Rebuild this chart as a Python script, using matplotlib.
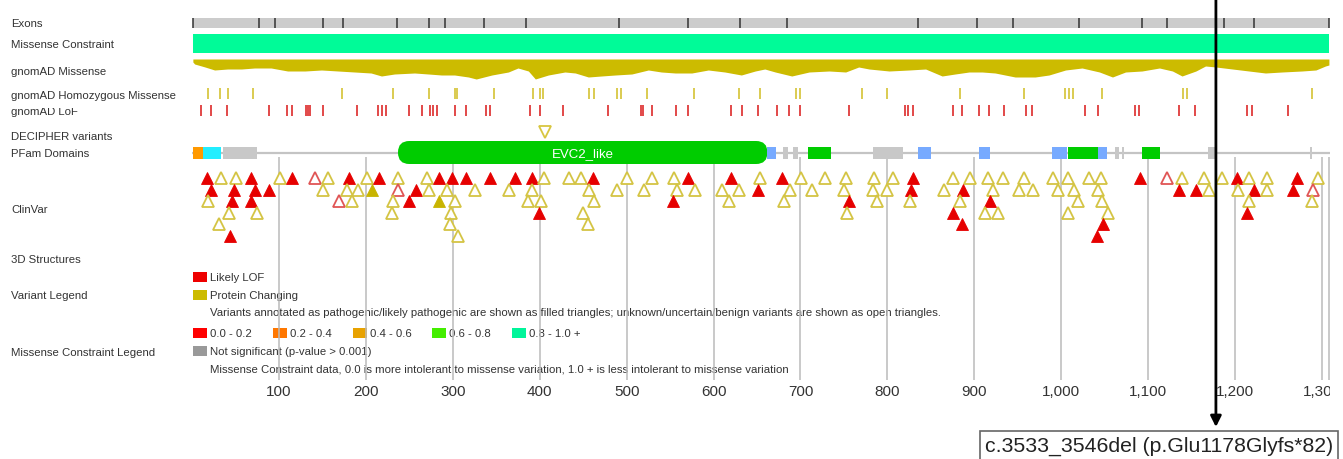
import matplotlib.pyplot as plt
from matplotlib.patches import Rectangle, FancyBboxPatch

plt.rcParams['font.family'] = ['Liberation Sans', 'DejaVu Sans']

PROTEIN_LEN = 1308

# exon boundaries (residues)
exon_bounds = [1, 77, 95, 151, 174, 236, 273, 291, 336, 384, 491, 571, 630, 685,
               835, 903, 945, 1020, 1093, 1122, 1187, 1222, PROTEIN_LEN]

# gnomAD missense depth profile (residue, depth)
missense_pos = [1, 3, 15, 26, 41, 57, 72, 91, 110, 130, 149, 168, 187, 206, 218, 233,
                256, 272, 287, 302, 318, 327, 345, 364, 375, 387, 395, 410, 429, 441,
                456, 471, 487, 506, 525, 540, 556, 575, 594, 613, 632, 648, 659, 671,
                690, 710, 733, 752, 767, 779, 802, 825, 844, 863, 878, 894, 909, 924,
                947, 970, 986, 1005, 1024, 1044, 1059, 1074, 1093, 1113, 1128, 1139,
                1155, 1166, 1178, 1197, 1216, 1235, 1254, 1277, 1293, 1304, 1308]
missense_depth = [3, 5, 8, 11, 10, 10, 9, 9, 12, 12, 11, 12, 13, 14, 17, 15,
                  14, 15, 16, 16, 18, 20, 16, 13, 9, 12, 20, 16, 13, 14,
                  18, 17, 16, 15, 11, 13, 14, 14, 11, 13, 16, 12, 10, 13,
                  17, 13, 12, 13, 8, 10, 12, 11, 10, 17, 15, 13, 13, 14,
                  18, 18, 16, 11, 9, 13, 18, 13, 12, 9, 12, 17,
                  12, 7, 8, 10, 12, 14, 13, 12, 11, 7, 6]

homozygous_missense = [18, 32, 41, 70, 173, 231, 273, 303, 305, 347, 392, 400, 404,
                       457, 462, 489, 494, 523, 578, 629, 653, 695, 700, 771, 800,
                       884, 957, 1004, 1009, 1014, 1047, 1140, 1145, 1289]

gnomad_lof = [10, 22, 40, 89, 109, 115, 131, 133, 136, 151, 190, 214, 219, 223, 250,
              265, 274, 277, 282, 303, 315, 338, 343, 389, 400, 427, 479, 517, 519,
              529, 557, 571, 620, 633, 651, 673, 687, 700, 756, 820, 824, 830, 876,
              886, 905, 917, 934, 960, 966, 1027, 1042, 1085, 1090, 1136, 1154, 1214,
              1220, 1261]

decipher = [406]

# Pfam / domain blocks
pfam_start = [1, 13, 36, 237, 662, 680, 692, 709, 783, 835, 905, 989, 1008, 1042,
              1062, 1070, 1093, 1169, 1286]
pfam_end = [13, 33, 75, 662, 672, 686, 697, 735, 818, 850, 918, 1007, 1042, 1053,
            1067, 1072, 1114, 1179, 1289]
pfam_color = ['#ff9900', '#22eeff', '#c8c8c8', '#00cc00', '#77aaff', '#c8c8c8',
              '#c8c8c8', '#00cc00', '#c8c8c8', '#77aaff', '#77aaff', '#77aaff',
              '#00cc00', '#77aaff', '#c8c8c8', '#c8c8c8', '#00cc00', '#c8c8c8',
              '#c8c8c8']
pfam_label = 'EVC2_like'

# ClinVar variants per stacked row: (residue, kind)
# LP = LOF pathogenic, LU = LOF uncertain, MP = missense pathogenic, MU = missense uncertain
clinvar_row1 = [(17, 'LP'), (33, 'MU'), (51, 'MU'), (68, 'LP'), (101, 'MU'), (115, 'LP'),
                (142, 'LU'), (156, 'MU'), (181, 'LP'), (201, 'MU'), (215, 'LP'), (237, 'MU'),
                (270, 'MU'), (284, 'LP'), (299, 'LP'), (315, 'LP'), (343, 'LP'), (372, 'LP'),
                (391, 'LP'), (405, 'MU'), (434, 'MU'), (448, 'MU'), (461, 'LP'), (500, 'MU'),
                (529, 'MU'), (555, 'MU'), (571, 'LP'), (620, 'LP'), (653, 'MU'), (679, 'LP'),
                (701, 'MU'), (728, 'MU'), (752, 'MU'), (785, 'MU'), (806, 'MU'), (830, 'LP'),
                (876, 'MU'), (895, 'MU'), (916, 'MU'), (933, 'MU'), (957, 'MU'), (991, 'MU'),
                (1008, 'MU'), (1032, 'MU'), (1046, 'MU'), (1091, 'LP'), (1122, 'LU'),
                (1139, 'MU'), (1164, 'MU'), (1185, 'MU'), (1202, 'LP'), (1216, 'MU'),
                (1237, 'MU'), (1271, 'LP'), (1295, 'MU')]
clinvar_row2 = [(22, 'LP'), (48, 'LP'), (72, 'LP'), (89, 'LP'), (151, 'MU'), (178, 'MU'),
                (191, 'MU'), (207, 'MP'), (237, 'LU'), (258, 'LP'), (273, 'MU'), (293, 'MU'),
                (326, 'MU'), (365, 'MU'), (391, 'MU'), (457, 'MU'), (489, 'MU'), (520, 'MU'),
                (558, 'MU'), (579, 'MU'), (610, 'MU'), (629, 'MU'), (651, 'LP'), (688, 'MU'),
                (713, 'MU'), (750, 'MU'), (783, 'MU'), (800, 'MU'), (827, 'LP'), (865, 'MU'),
                (887, 'LP'), (922, 'MU'), (951, 'MU'), (968, 'MU'), (996, 'MU'), (1015, 'MU'),
                (1042, 'MU'), (1136, 'LP'), (1155, 'LP'), (1170, 'MU'), (1203, 'MU'),
                (1222, 'LP'), (1237, 'MU'), (1267, 'LP'), (1290, 'LU')]
clinvar_row3 = [(18, 'MU'), (46, 'LP'), (68, 'LP'), (169, 'LU'), (184, 'MU'), (231, 'MU'),
                (250, 'LP'), (284, 'MP'), (303, 'MU'), (387, 'MU'), (402, 'MU'), (462, 'MU'),
                (553, 'LP'), (618, 'MU'), (681, 'MU'), (756, 'LP'), (788, 'MU'), (826, 'MU'),
                (884, 'MU'), (918, 'LP'), (1019, 'MU'), (1047, 'MU'), (1216, 'MU'), (1289, 'MU')]
clinvar_row4 = [(43, 'MU'), (75, 'MU'), (230, 'MU'), (298, 'MU'), (399, 'LP'), (450, 'MU'),
                (754, 'MU'), (876, 'LP'), (912, 'MU'), (927, 'MU'), (1008, 'MU'), (1054, 'MU'),
                (1214, 'LP')]
clinvar_row5 = [(31, 'MU'), (297, 'MU'), (456, 'MU'), (886, 'LP'), (1048, 'LP')]
clinvar_row6 = [(44, 'LP'), (306, 'MU'), (1041, 'LP')]
clinvar_rows = [clinvar_row1, clinvar_row2, clinvar_row3, clinvar_row4, clinvar_row5, clinvar_row6]

axis_ticks = [100, 200, 300, 400, 500, 600, 700, 800, 900, 1000, 1100, 1200, 1300]
tick_labels = ['100', '200', '300', '400', '500', '600', '700', '800', '900',
               '1,000', '1,100', '1,200', '1,300']

highlight_pos = 1178
highlight_label = 'c.3533_3546del (p.Glu1178Glyfs*82)'

track_labels = ['Exons', 'Missense Constraint', 'gnomAD Missense', 'gnomAD Homozygous Missense',
                'gnomAD LoF', 'DECIPHER variants', 'PFam Domains', 'ClinVar', '3D Structures',
                'Variant Legend', 'Missense Constraint Legend']
track_label_y = [24, 45, 72, 96, 112, 137, 154, 210, 260, 296, 353]

constraint_bins = ['0.0 - 0.2', '0.2 - 0.4', '0.4 - 0.6', '0.6 - 0.8', '0.8 - 1.0 +']
constraint_colors = ['#ff0000', '#ff7700', '#e8a200', '#44ee00', '#00f59a']

W, H = 1343, 460
YELLOW = '#ccbb00'
RED = '#e60000'
TXT = '#333333'
FS = 8.2

fig = plt.figure(figsize=(W / 100, H / 100), dpi=100)

# overlay axes in pixel units for labels and legends
ov = fig.add_axes([0, 0, 1, 1])
ov.set_xlim(0, W)
ov.set_ylim(H, 0)
ov.axis('off')

# data axes: residues along x, pixel rows along y
x0, x1 = 192, 1330
ax = fig.add_axes([x0 / W, 0, (x1 - x0) / W, 1])
ax.set_xlim(0, (x1 - x0) / 0.8692)
ax.set_ylim(H, 0)
ax.axis('off')
ax.patch.set_alpha(0)

for lbl, y in zip(track_labels, track_label_y):
    z = 2 if lbl == 'gnomAD LoF' else 4
    ov.text(11, y, lbl, fontsize=FS, color=TXT, va='center', ha='left', zorder=z)
# top of "gnomAD LoF" hidden under the row above
ov.add_patch(Rectangle((5, 101), 185, 7.5, fc='white', ec='none', zorder=3))

# exons
ax.add_patch(Rectangle((1, 19), PROTEIN_LEN - 1, 10, fc='#cccccc', ec='none'))
ax.vlines(exon_bounds, 19, 29, color='#333333', lw=1.1)

# missense constraint
ax.add_patch(Rectangle((1, 35), PROTEIN_LEN - 1, 19, fc='#00fb98', ec='none'))

# gnomAD missense profile
ax.fill_between(missense_pos, 60, [60 + d for d in missense_depth], color=YELLOW, lw=0)

# homozygous missense + LoF ticks
ax.vlines(homozygous_missense, 89, 100, color='#d4c234', lw=1.2)
ax.vlines(gnomad_lof, 106, 117, color='#dd2a2a', lw=1.2)

# decipher
ax.plot(decipher, [133] * len(decipher), 'v', ms=8, mfc='none', mec='#d8c640', mew=1.3)

# pfam
ax.plot([1, PROTEIN_LEN], [154, 154], color='#c4c4c4', lw=1.6, zorder=1)
for s, e, c in zip(pfam_start, pfam_end, pfam_color):
    if c == '#00cc00' and e - s > 100:
        ax.add_patch(FancyBboxPatch((s, 142), e - s, 23,
                                    boxstyle='round,pad=0,rounding_size=13',
                                    mutation_aspect=0.869, fc=c, ec='none', zorder=2))
        ax.text((s + e) / 2, 154, pfam_label, color='white', fontsize=9.5,
                ha='center', va='center', zorder=3)
    else:
        ax.add_patch(Rectangle((s, 148), e - s, 12, fc=c, ec='none', zorder=2))

# grid lines for ClinVar
ax.vlines(axis_ticks, 158, 381, color='#bbbbbb', lw=1.1, zorder=0)
ax.vlines([PROTEIN_LEN + 0.5], 158, 381, color='#bbbbbb', lw=1.1, zorder=0)

# clinvar triangles
row_y = [179, 190.5, 202, 213.5, 225, 236.5]
styles = {
    'LP': dict(mfc=RED, mec=RED, mew=0.6),
    'LU': dict(mfc='white', mec='#e05555', mew=1.3),
    'MP': dict(mfc='#c8b400', mec='#c8b400', mew=0.6),
    'MU': dict(mfc='white', mec='#d4c444', mew=1.3),
}
for y, row in zip(row_y, clinvar_rows):
    for pos, kind in row:
        ax.plot(pos, y, '^', ms=8, zorder=4, **styles[kind])

# axis tick labels (clipped at the right edge)
for t, lab in zip(axis_ticks, tick_labels):
    ax.text(t, 392, lab, fontsize=11, color=TXT, ha='center', va='center', clip_on=True)

# legends
ov.add_patch(Rectangle((193, 273), 14, 10, fc='#ee0000', ec='none'))
ov.text(210, 278, 'Likely LOF', fontsize=FS, color=TXT, va='center')
ov.add_patch(Rectangle((193, 291), 14, 10, fc=YELLOW, ec='none'))
ov.text(210, 296, 'Protein Changing', fontsize=FS, color=TXT, va='center')
ov.text(210, 313, 'Variants annotated as pathogenic/likely pathogenic are shown as filled triangles; '
        'unknown/uncertain/benign variants are shown as open triangles.',
        fontsize=FS, color=TXT, va='center')
for i, (lab, c) in enumerate(zip(constraint_bins, constraint_colors)):
    xs = 193 + i * 79.8
    ov.add_patch(Rectangle((xs, 329), 14, 10, fc=c, ec='none'))
    ov.text(xs + 17, 334, lab, fontsize=FS, color=TXT, va='center')
ov.add_patch(Rectangle((193, 347), 14, 10, fc='#999999', ec='none'))
ov.text(210, 352, 'Not significant (p-value > 0.001)', fontsize=FS, color=TXT, va='center')
ov.text(210, 370, 'Missense Constraint data, 0.0 is more intolerant to missense variation, '
        '1.0 + is less intolerant to missense variation', fontsize=FS, color=TXT, va='center')

# highlighted variant arrow
ax.annotate('', xy=(highlight_pos, 428), xytext=(highlight_pos, -2),
            arrowprops=dict(arrowstyle='-|>', color='black', lw=2, mutation_scale=16,
                            shrinkA=0, shrinkB=0), annotation_clip=False, zorder=6)
ov.text(1333, 446.5, highlight_label, fontsize=15.3, color='#222222', ha='right', va='center',
        bbox=dict(boxstyle='square,pad=0.22', fc='white', ec='#666666', lw=1.2), zorder=7)

fig.savefig('out.png', dpi=100)
